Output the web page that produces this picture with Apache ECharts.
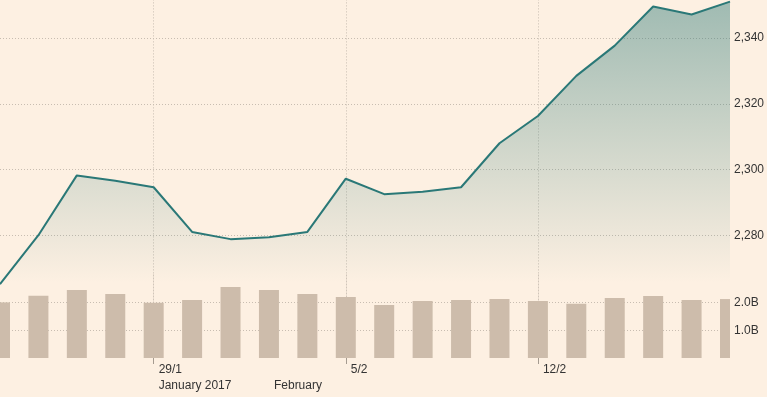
<!DOCTYPE html>
<html>
<head>
<meta charset="utf-8">
<script src="https://cdn.jsdelivr.net/npm/echarts@6/dist/echarts.min.js"></script>
<style>
  html, body { margin: 0; padding: 0; background: #fdf0e2; }
  #chart { width: 767px; height: 397px; }
</style>
</head>
<body>
<div id="chart"></div>
<script>
// trading days (Sun-Thu weeks)
const dates = ['23/1', '24/1', '25/1', '26/1', '29/1', '30/1', '31/1', '1/2', '2/2', '5/2',
  '6/2', '7/2', '8/2', '9/2', '12/2', '13/2', '14/2', '15/2', '16/2', '19/2'];
// index close
const closeValues = [2265.1, 2280.0, 2298.2, 2296.6, 2294.6, 2281.0, 2278.8, 2279.4, 2281.0, 2297.2,
  2292.5, 2293.2, 2294.6, 2308.0, 2316.3, 2328.5, 2337.7, 2349.6, 2347.2, 2351.1];
// volume, billions
const volumeValues = [2.0, 2.24, 2.45, 2.30, 1.99, 2.09, 2.55, 2.45, 2.30, 2.19,
  1.91, 2.05, 2.09, 2.12, 2.05, 1.95, 2.16, 2.23, 2.09, 2.12];
// tick labels
const weekTicks = ['29/1', '5/2', '12/2'];
const monthTickDates = ['29/1', '1/2'];
const monthTickLabels = ['January 2017', 'February'];

const font = 'Liberation Sans, Arial, sans-serif';
const gridColor = '#c8bdb1';
const textColor = '#333333';

const isWeekTick = (i) => weekTicks.indexOf(dates[i]) >= 0;

let myChart = echarts.init(document.getElementById('chart'));

// bars clipped to the plot area (the edge bars are cut in half)
function renderVolumeBar(params, api) {
  const top = api.coord([api.value(0), api.value(1)]);
  const base = api.coord([api.value(0), 0]);
  const cs = params.coordSys;
  const rect = echarts.graphic.clipRectByRect(
    { x: top[0] - 10, y: top[1], width: 20, height: base[1] - top[1] },
    { x: cs.x, y: cs.y, width: cs.width, height: cs.height }
  );
  return rect && {
    type: 'rect',
    shape: rect,
    style: { fill: '#cdbcab' }
  };
}

let option = {
  backgroundColor: '#fdf0e2',
  animation: false,
  textStyle: { fontFamily: font },
  grid: [
    // price: 2260 at y=301, 2360 above the top edge
    { left: 0, right: 37, top: -27.6, height: 328.5, outerBoundsMode: 'none' },
    // volume: 0 at y=358
    { left: 0, right: 37, top: 274.6, bottom: 39, outerBoundsMode: 'none' }
  ],
  xAxis: [
    {
      type: 'category',
      gridIndex: 0,
      data: dates,
      boundaryGap: false,
      axisLine: { show: false },
      axisTick: { show: false },
      axisLabel: { show: false },
      splitLine: {
        show: true,
        interval: (i) => isWeekTick(i),
        lineStyle: { color: gridColor, type: [1, 2], width: 1 }
      }
    },
    {
      type: 'category',
      gridIndex: 1,
      data: dates,
      boundaryGap: false,
      axisLine: { show: false },
      axisTick: {
        show: true,
        interval: (i) => isWeekTick(i),
        length: 6,
        lineStyle: { color: '#a59b90' }
      },
      axisLabel: {
        interval: (i) => isWeekTick(i),
        align: 'left',
        padding: [0, 0, 0, 5],
        margin: 6,
        color: textColor,
        fontSize: 12,
        fontFamily: font
      },
      splitLine: {
        show: true,
        interval: (i) => isWeekTick(i),
        lineStyle: { color: gridColor, type: [1, 2], width: 1 }
      }
    },
    {
      type: 'category',
      gridIndex: 1,
      data: dates,
      boundaryGap: false,
      position: 'bottom',
      offset: 16,
      axisLine: { show: false },
      axisTick: { show: false },
      axisLabel: {
        interval: (i) => monthTickDates.indexOf(dates[i]) >= 0,
        formatter: (v) => monthTickLabels[monthTickDates.indexOf(v)] || '',
        align: 'left',
        padding: [0, 0, 0, 5],
        margin: 6,
        color: textColor,
        fontSize: 12,
        fontFamily: font
      }
    }
  ],
  yAxis: [
    {
      type: 'value',
      gridIndex: 0,
      position: 'right',
      min: 2260,
      max: 2360,
      interval: 20,
      axisLine: { show: false },
      axisTick: { show: false },
      axisLabel: {
        margin: 4,
        color: textColor,
        fontSize: 12,
        fontFamily: font,
        showMinLabel: false,
        showMaxLabel: false,
        formatter: (v) => v.toLocaleString('en-US')
      },
      splitLine: {
        show: true,
        showMinLine: false,
        showMaxLine: false,
        lineStyle: { color: gridColor, type: [1, 2], width: 1 }
      }
    },
    {
      type: 'value',
      gridIndex: 1,
      position: 'right',
      min: 0,
      max: 3,
      interval: 1,
      axisLine: { show: false },
      axisTick: { show: false },
      axisLabel: {
        margin: 4,
        color: textColor,
        fontSize: 12,
        fontFamily: font,
        showMinLabel: false,
        showMaxLabel: false,
        formatter: (v) => v.toFixed(1) + 'B'
      },
      splitLine: {
        show: true,
        showMinLine: false,
        showMaxLine: false,
        lineStyle: { color: gridColor, type: [1, 2], width: 1 }
      }
    }
  ],
  series: [
    {
      name: 'Volume',
      type: 'custom',
      xAxisIndex: 1,
      yAxisIndex: 1,
      data: volumeValues.map((v, i) => [i, v]),
      encode: { x: 0, y: 1 },
      renderItem: renderVolumeBar,
      z: 3
    },
    {
      name: 'Index',
      type: 'line',
      xAxisIndex: 0,
      yAxisIndex: 0,
      data: closeValues,
      symbol: 'none',
      lineStyle: { color: '#2a7877', width: 2 },
      areaStyle: {
        opacity: 1,
        color: new echarts.graphic.LinearGradient(0, 0, 0, 1, [
          { offset: 0, color: 'rgba(46,122,120,0.45)' },
          { offset: 0.94, color: 'rgba(46,122,120,0)' },
          { offset: 1, color: 'rgba(46,122,120,0)' }
        ])
      },
      z: 2
    }
  ]
};

myChart.setOption(option);
</script>
</body>
</html>
